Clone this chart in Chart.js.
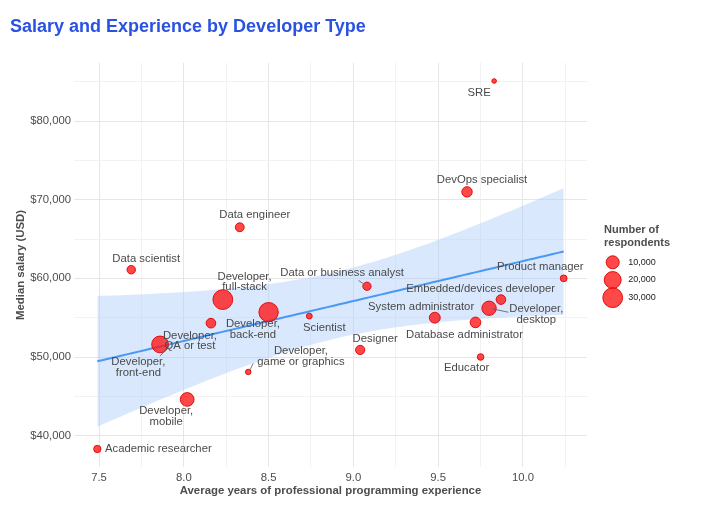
<!DOCTYPE html>
<html>
<head>
<meta charset="utf-8">
<title>Salary and Experience by Developer Type</title>
<script src="https://cdn.jsdelivr.net/npm/chart.js@4.4.1/dist/chart.umd.min.js"></script>
<style>
  html, body { margin: 0; padding: 0; background: #fff; }
</style>
</head>
<body>
<canvas id="salaryChart" width="714" height="512"></canvas>
<script>
// Developer types
const devTypes = [
    'SRE', 'DevOps specialist', 'Data engineer', 'Data scientist', 'Product manager',
    'Data or business analyst', 'Developer, full-stack', 'Developer, back-end',
    'Embedded/devices developer', 'Developer, desktop', 'Scientist', 'Developer, QA or test',
    'System administrator', 'Database administrator', 'Designer', 'Educator',
    'Developer, game or graphics', 'Developer, mobile', 'Academic researcher', 'Developer, front-end'
];
const experienceYears = [9.83, 9.67, 8.33, 7.69, 10.24, 9.08, 8.23, 8.50, 9.87, 9.80,
    8.74, 8.16, 9.48, 9.72, 9.04, 9.75, 8.38, 8.02, 7.49, 7.86];
const medianSalary = [85100, 71000, 66500, 61100, 60000, 59000, 57300, 55700, 57300, 56200,
    55200, 54300, 55000, 54400, 50900, 50000, 48100, 44600, 38300, 51600];
const respondents = [1000, 5300, 3300, 2900, 1600, 2700, 30000, 28500, 4200, 12900,
    1200, 4200, 6000, 5600, 3700, 1500, 1100, 11400, 1900, 19600];
const legendCounts = [10000, 20000, 30000];

// Label placement (pixels from the point centre), like ggrepel put them
const labelOffsets = [
    [-15, 12], [15, -12.4], [15, -12], [15, -11], [-23.4, -11],
    [-24.8, -13], [21.7, -17.8], [-15.7, 17.4], [-20.3, -10.7], [47.3, 6.3],
    [15, 12], [-21, 17.7], [-13.7, -10.7], [-11, 12.3], [15, -10.7],
    [-14, 11], [52.7, -15.5], [-21, 17.3], [61, 0], [-21.7, 23.2]
];
const leaderLines = {
    'Data or business analyst': [[-8.4, -5.7], [-3.5, -2.4]],
    'Developer, desktop': [[3.3, 0.6], [19.3, 4]],
    'Developer, game or graphics': [[5, -8.7], [1.7, -2]],
    'Developer, front-end': [[0, 11.7], [9, 1.7]]
};

const FONT = '"Liberation Sans", Arial, Helvetica, sans-serif';
Chart.defaults.font.family = FONT;

// Bubble area scale, like scale_size
const nMin = Math.min(...respondents);
const nMax = Math.max(...respondents);
function bubbleRadius(n) {
    const s = Math.sqrt(Math.max(0, n - nMin) / (nMax - nMin));
    return 2.3 + 7.6 * s;
}

// Linear fit with 95% confidence band (geom_smooth, method = "lm")
function linearFit(xs, ys) {
    const n = xs.length;
    const mx = xs.reduce((a, b) => a + b, 0) / n;
    const my = ys.reduce((a, b) => a + b, 0) / n;
    let sxx = 0, sxy = 0;
    for (let i = 0; i < n; i++) {
        sxx += (xs[i] - mx) ** 2;
        sxy += (xs[i] - mx) * (ys[i] - my);
    }
    const slope = sxy / sxx;
    const icpt = my - slope * mx;
    let sse = 0;
    for (let i = 0; i < n; i++) sse += (ys[i] - (icpt + slope * xs[i])) ** 2;
    const s = Math.sqrt(sse / (n - 2));
    return { n, mx, sxx, slope, icpt, s };
}

const fit = linearFit(experienceYears, medianSalary);
const tCrit = 2.101; // t(0.975, df = 18)
const xLo = Math.min(...experienceYears);
const xHi = Math.max(...experienceYears);

const fitLine = [];
const bandUpper = [];
const bandLower = [];
for (let i = 0; i < 80; i++) {
    const x = xLo + (xHi - xLo) * i / 79;
    const y = fit.icpt + fit.slope * x;
    const se = fit.s * Math.sqrt(1 / fit.n + (x - fit.mx) ** 2 / fit.sxx);
    fitLine.push({ x, y });
    bandUpper.push({ x, y: y + tCrit * se });
    bandLower.push({ x, y: y - tCrit * se });
}

// Axis ranges: data range plus 5% each side
const yAll = medianSalary.concat(bandUpper.map(p => p.y), bandLower.map(p => p.y));
const yLo = Math.min(...yAll), yHi = Math.max(...yAll);
const xPad = (xHi - xLo) * 0.05, yPad = (yHi - yLo) * 0.05;

const bubbles = devTypes.map((name, i) => ({
    x: experienceYears[i],
    y: medianSalary[i],
    r: bubbleRadius(respondents[i])
}));

function splitLabel(name) {
    if (name.startsWith('Developer, ')) return ['Developer,', name.slice(11)];
    return [name];
}

// major + minor grid steps, kept inside the set range
function stepTicks(step) {
    return scale => {
        const out = [];
        for (let v = Math.ceil(scale.min / step) * step; v <= scale.max + 1e-9; v += step) {
            out.push({ value: Math.round(v * 1000) / 1000 });
        }
        scale.ticks = out;
    };
}

// Text labels on the points
const pointLabels = {
    id: 'pointLabels',
    afterDatasetsDraw(chart) {
        const ctx = chart.ctx;
        const meta = chart.getDatasetMeta(0);
        ctx.save();
        ctx.strokeStyle = '#555';
        ctx.lineWidth = 0.8;
        meta.data.forEach((pt, i) => {
            const seg = leaderLines[devTypes[i]];
            if (!seg) return;
            ctx.beginPath();
            ctx.moveTo(pt.x + seg[0][0], pt.y + seg[0][1]);
            ctx.lineTo(pt.x + seg[1][0], pt.y + seg[1][1]);
            ctx.stroke();
        });
        ctx.font = '11.3px ' + FONT;
        ctx.fillStyle = '#4a4a4a';
        ctx.textAlign = 'center';
        ctx.textBaseline = 'middle';
        meta.data.forEach((pt, i) => {
            const [dx, dy] = labelOffsets[i];
            const lines = splitLabel(devTypes[i]);
            const top = pt.y + dy - (lines.length - 1) * 5.4;
            lines.forEach((ln, k) => ctx.fillText(ln, pt.x + dx, top + k * 10.8));
        });
        ctx.restore();
    }
};

// Size legend on the right
const sizeLegend = {
    id: 'sizeLegend',
    afterDraw(chart) {
        const ctx = chart.ctx;
        const left = 604;
        ctx.save();
        ctx.font = 'bold 11px ' + FONT;
        ctx.fillStyle = '#4d4d4d';
        ctx.textAlign = 'left';
        ctx.textBaseline = 'middle';
        ctx.fillText('Number of', left, 230);
        ctx.fillText('respondents', left, 242.5);
        legendCounts.forEach((n, i) => {
            const cy = 262.3 + i * 17.7;
            ctx.beginPath();
            ctx.arc(612.7, cy, bubbleRadius(n), 0, Math.PI * 2);
            ctx.fillStyle = 'rgba(255, 20, 20, 0.78)';
            ctx.fill();
            ctx.strokeStyle = 'rgba(225, 0, 0, 0.9)';
            ctx.lineWidth = 1;
            ctx.stroke();
            ctx.fillStyle = '#222';
            ctx.font = '9px ' + FONT;
            ctx.fillText(n.toLocaleString('en-US'), 628.3, cy);
        });
        ctx.restore();
    }
};

const ctx = document.getElementById('salaryChart');

new Chart(ctx, {
    type: 'bubble',
    data: {
        datasets: [
            {
                label: 'Developer types',
                data: bubbles,
                backgroundColor: 'rgba(255, 20, 20, 0.78)',
                borderColor: 'rgba(225, 0, 0, 0.9)',
                borderWidth: 1
            },
            {
                type: 'line',
                label: 'Linear fit',
                data: fitLine,
                borderColor: '#4a98f5',
                borderWidth: 2,
                pointRadius: 0,
                fill: false
            },
            {
                type: 'line',
                label: 'Upper 95%',
                data: bandUpper,
                borderWidth: 0,
                pointRadius: 0,
                backgroundColor: 'rgba(170, 203, 248, 0.45)',
                fill: '+1'
            },
            {
                type: 'line',
                label: 'Lower 95%',
                data: bandLower,
                borderWidth: 0,
                pointRadius: 0,
                fill: false
            }
        ]
    },
    options: {
        responsive: false,
        animation: false,
        layout: {
            padding: { left: 10, right: 127, top: 0, bottom: 0 }
        },
        plugins: {
            legend: { display: false },
            tooltip: { enabled: false },
            title: {
                display: true,
                text: 'Salary and Experience by Developer Type',
                align: 'start',
                color: '#2a52e0',
                font: { size: 18, weight: 'bold' },
                padding: { top: 16.2, bottom: 24.8 }
            }
        },
        scales: {
            x: {
                type: 'linear',
                min: xLo - xPad,
                max: xHi + xPad,
                afterBuildTicks: stepTicks(0.25),
                afterFit: scale => { scale.height = 44.6; },
                border: { display: false },
                grid: {
                    drawTicks: false,
                    color: c => (Math.abs(c.tick.value * 2 - Math.round(c.tick.value * 2)) < 1e-6 ? '#e6e6e6' : '#f2f2f2')
                },
                ticks: {
                    padding: 4,
                    color: '#4d4d4d',
                    font: { size: 11.3 },
                    maxRotation: 0,
                    autoSkip: false,
                    callback: v => (Math.abs(v * 2 - Math.round(v * 2)) < 1e-6 ? v.toFixed(1) : '')
                },
                title: {
                    display: true,
                    text: 'Average years of professional programming experience',
                    color: '#4d4d4d',
                    font: { size: 11.4, weight: 'bold' },
                    padding: { top: 0, bottom: 14.6 }
                }
            },
            y: {
                type: 'linear',
                min: yLo - yPad,
                max: yHi + yPad,
                afterBuildTicks: stepTicks(5000),
                afterFit: scale => { scale.width = 64; },
                border: { display: false },
                grid: {
                    drawTicks: false,
                    color: c => (Math.abs(c.tick.value % 10000) < 1 ? '#e6e6e6' : '#f2f2f2')
                },
                ticks: {
                    padding: 3,
                    color: '#4d4d4d',
                    font: { size: 11.3 },
                    autoSkip: false,
                    callback: v => (Math.abs(v % 10000) < 1 ? '$' + v.toLocaleString('en-US') : '')
                },
                title: {
                    display: true,
                    text: 'Median salary (USD)',
                    color: '#4d4d4d',
                    font: { size: 11.4, weight: 'bold' },
                    padding: { top: 4, bottom: 0 }
                }
            }
        }
    },
    plugins: [pointLabels, sizeLegend]
});
</script>
</body>
</html>
